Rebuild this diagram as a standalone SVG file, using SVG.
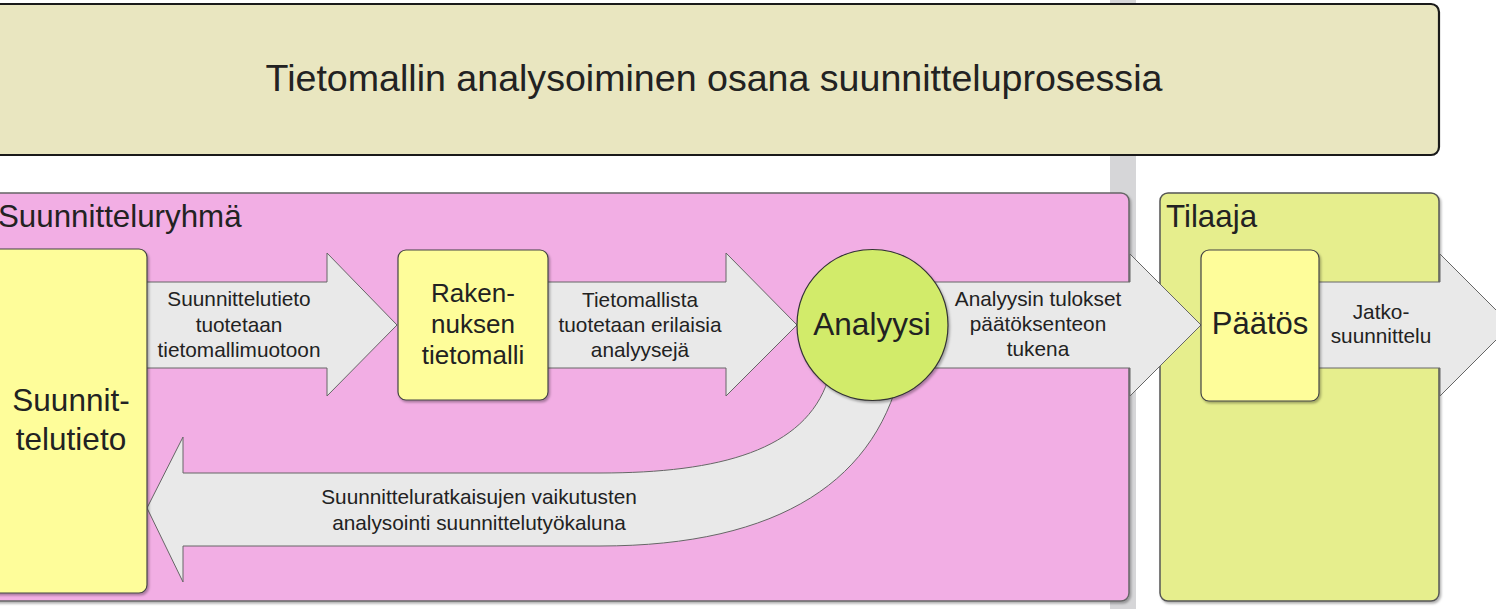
<svg xmlns="http://www.w3.org/2000/svg" width="1496" height="609" viewBox="0 0 1496 609">
<defs>
<filter id="sh" x="-5%" y="-5%" width="115%" height="115%">
<feDropShadow dx="1.5" dy="2" stdDeviation="1" flood-color="#000" flood-opacity="0.3"/>
</filter>
<style>
text{font-family:"Liberation Sans",Arial,sans-serif;fill:#222;text-anchor:middle}
.arrow{fill:#e9e9e9;stroke:#666;stroke-width:1}
.box{fill:#fefd9a;stroke:#444;stroke-width:1.2}
.lbl{font-size:20.8px}
.big{font-size:31.5px}
</style>
</defs>
<rect x="1110" y="0" width="26" height="609" fill="#d6d6d8"/>
<g id="title">
<rect x="-20" y="4" width="1459" height="151" rx="8" fill="#e9e6c0" stroke="#1a1a1a" stroke-width="2.2"/>
<text x="714" y="91" style="font-size:37.6px">Tietomallin analysoiminen osana suunnitteluprosessia</text>
</g>
<g id="suunnitteluryhma">
<rect x="-20" y="193" width="1149" height="408" rx="8" fill="#f2aee4" stroke="#666" stroke-width="1.5" filter="url(#sh)"/>
<text x="-2" y="227" style="font-size:31.3px;text-anchor:start">Suunnitteluryhmä</text>
</g>
<g id="tilaaja">
<rect x="1160" y="193" width="279" height="408" rx="8" fill="#e6ee8d" stroke="#555" stroke-width="1.5" filter="url(#sh)"/>
<text x="1166" y="227" style="font-size:31.3px;text-anchor:start">Tilaaja</text>
</g>
<g id="connectors">
<path class="arrow" d="M140 282 L327 282 L327 253 L397 325 L327 396 L327 368 L140 368 Z"/>
<text class="lbl" x="239" y="306">Suunnittelutieto</text>
<text class="lbl" x="239" y="332">tuotetaan</text>
<text class="lbl" x="239" y="357">tietomallimuotoon</text>
<path class="arrow" d="M540 282 L726 282 L726 253 L797 325 L726 396 L726 368 L540 368 Z"/>
<text class="lbl" x="640" y="307">Tietomallista</text>
<text class="lbl" x="640" y="332">tuotetaan erilaisia</text>
<text class="lbl" x="640" y="357">analyysejä</text>
<path class="arrow" d="M900 282 L1130 282 L1130 254 L1201 325 L1130 396 L1130 368 L900 368 Z"/>
<text class="lbl" x="1038" y="306">Analyysin tulokset</text>
<text class="lbl" x="1038" y="331">päätöksenteon</text>
<text class="lbl" x="1038" y="356">tukena</text>
<path class="arrow" d="M1310 282 L1440 282 L1440 254 L1511 325 L1440 396 L1440 368 L1310 368 Z"/>
<text class="lbl" x="1381" y="319">Jatko-</text>
<text class="lbl" x="1381" y="343">suunnittelu</text>
<path class="arrow" d="M183 473 L600 473 C720 473 805 450 828 380 L860 340 L903 360 C880 480 780 546 600 546 L183 546 L183 582 L147 508 L183 437 Z"/>
<text class="lbl" x="479" y="504">Suunnitteluratkaisujen vaikutusten</text>
<text class="lbl" x="479" y="530">analysointi suunnittelutyökaluna</text>
</g>
<g id="suunnittelutieto">
<rect class="box" x="-20" y="249" width="167" height="344" rx="8" filter="url(#sh)"/>
<text class="big" x="71" y="411">Suunnit-</text>
<text class="big" x="71" y="450">telutieto</text>
</g>
<g id="rakennuksen-tietomalli">
<rect class="box" x="398" y="250" width="150" height="150" rx="8" filter="url(#sh)"/>
<text x="473" y="302" style="font-size:26px">Raken-</text>
<text x="473" y="333" style="font-size:26px">nuksen</text>
<text x="473" y="364" style="font-size:26px">tietomalli</text>
</g>
<g id="analyysi">
<circle cx="872.5" cy="325" r="75.5" fill="#d2eb6b" stroke="#333" stroke-width="1.2" filter="url(#sh)"/>
<text class="big" x="872" y="335">Analyysi</text>
</g>
<g id="paatos">
<rect class="box" x="1201" y="250" width="118" height="151" rx="8" filter="url(#sh)"/>
<text x="1260" y="334" style="font-size:31px">Päätös</text>
</g>
</svg>
